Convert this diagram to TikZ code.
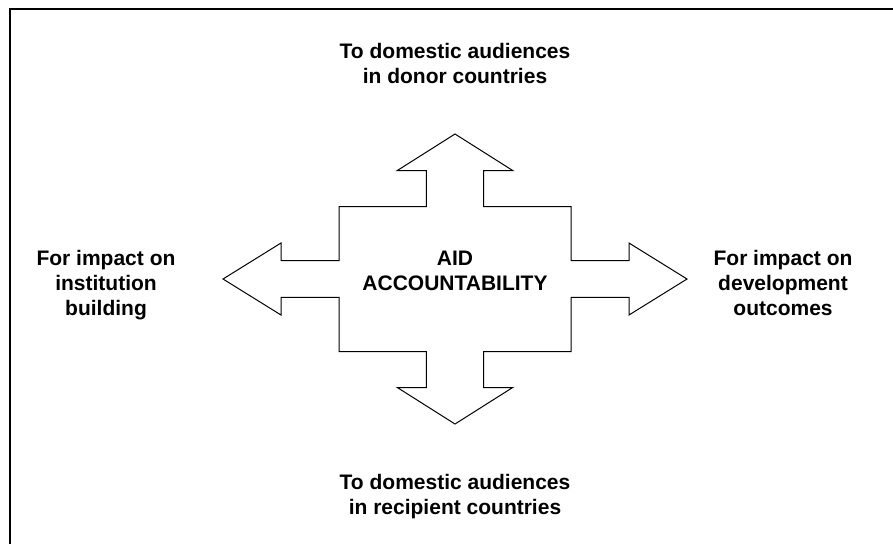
\documentclass[tikz,border=0pt]{standalone}
\usepackage{fontspec}
\setmainfont{Liberation Sans}
\usetikzlibrary{positioning}

\begin{document}
\begin{tikzpicture}[x=1pt,y=-1pt,
		crossline/.style={draw=black, line width=1pt, line join=miter},
		blocktext/.style={align=center, anchor=base, inner sep=0pt, font=\bfseries\fontsize{21}{25}\selectfont}]
			\useasboundingbox (0,0) rectangle (893,544);
			
			% Frame (only top and left edge visible)
			\draw[line width=2.4pt] (10,544) -- (10,9) -- (893,9);
			
			% Four-way arrow
			\coordinate (c) at (455,279);
			\draw[crossline] (455,134) -- (512.7,170.5) -- (483.7,170.5) -- (483.7,206.5)
				-- (571,206.5) -- (571,260.7) -- (629,260.7) -- (629,243) -- (687,279)
				-- (629,315) -- (629,297.3) -- (571,297.3) -- (571,351.5) -- (483.7,351.5)
				-- (483.7,387.5) -- (512.7,387.5) -- (455,424) -- (397.3,387.5) -- (426.3,387.5)
				-- (426.3,351.5) -- (339,351.5) -- (339,297.3) -- (281,297.3) -- (281,315)
				-- (223,279) -- (281,243) -- (281,260.7) -- (339,260.7) -- (339,206.5)
				-- (426.3,206.5) -- (426.3,170.5) -- (397.3,170.5) -- cycle;
			
			% Texts (base = last line)
			\node[blocktext] (aid) at (455,290) {AID\\ACCOUNTABILITY};
			\node[blocktext] (donor) at (455,83) {To domestic audiences\\in donor countries};
			\node[blocktext] (recipient) at (455,514) {To domestic audiences\\in recipient countries};
			\node[blocktext] (institution) at (106,315) {For impact on\\institution\\building};
			\node[blocktext] (outcomes) at (783,315) {For impact on\\development\\outcomes};
		\end{tikzpicture}
\end{document}
